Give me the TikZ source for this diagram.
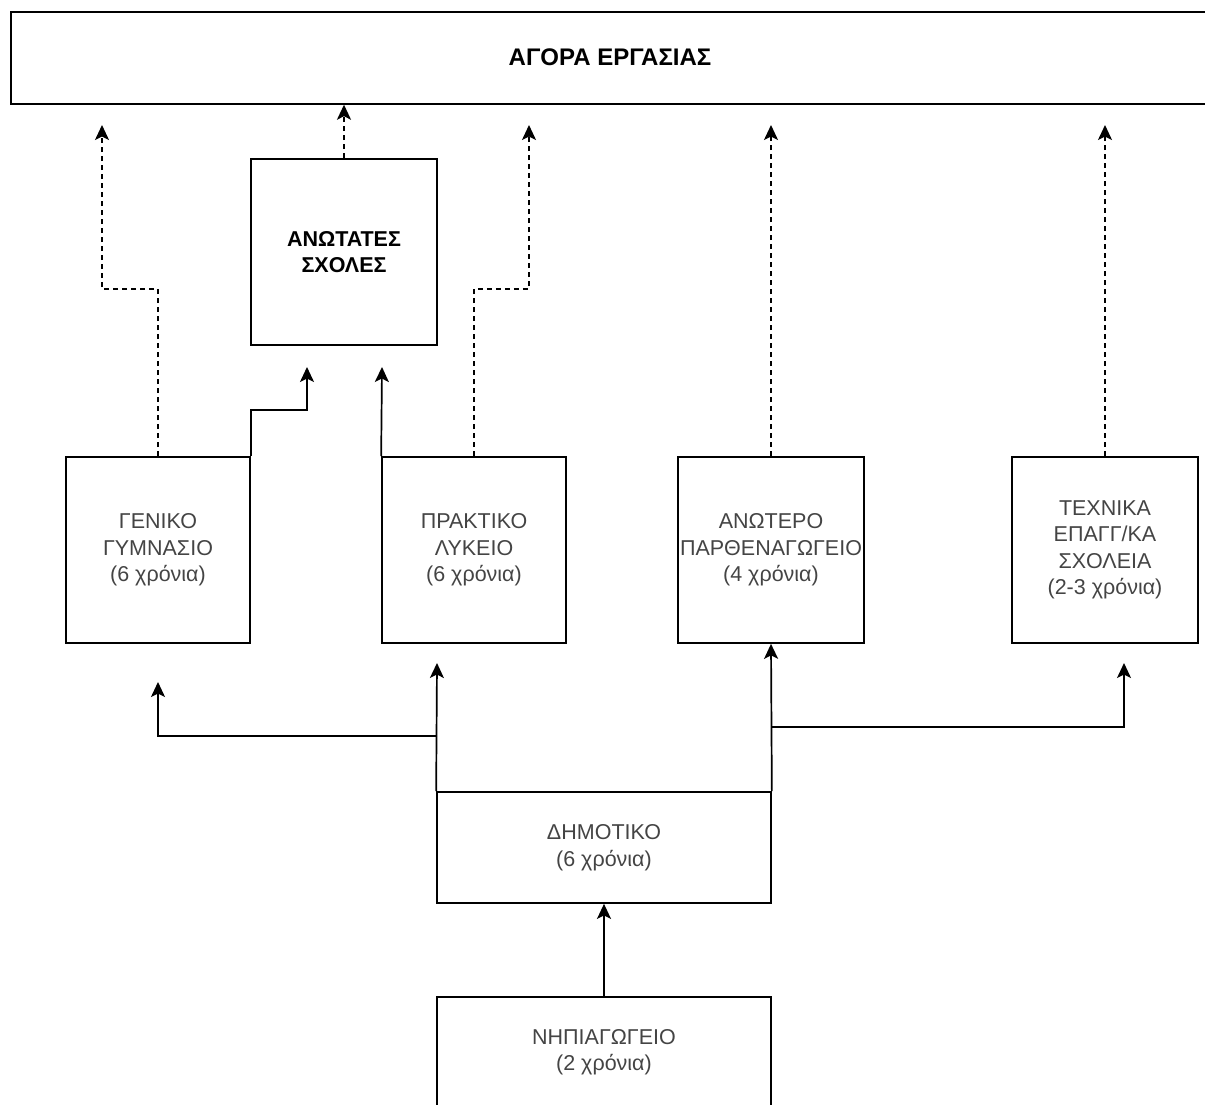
\documentclass[tikz,border=0pt]{standalone}
\usepackage{fontspec}
\setmainfont{Liberation Sans}
\usetikzlibrary{arrows.meta}
\definecolor{txt}{HTML}{444444}
\begin{document}
\begin{tikzpicture}[x=1pt,y=-1pt,
  box/.style={draw=black, line width=1.7pt, inner sep=0pt, align=center, text=txt,
    font=\fontsize{21.5}{26.5}\selectfont},
  boldbox/.style={box, text=black, font=\fontsize{21.5}{25.5}\selectfont\bfseries},
  arr/.style={draw=black, line width=1.7pt, -{Stealth[length=15pt,width=14pt,inset=3.5pt]}},
  darr/.style={arr, dash pattern=on 5pt off 4pt},
]
\useasboundingbox (0,0) rectangle (1205,1104);

% boxes
\node[box, minimum width=1200pt, minimum height=92pt, anchor=north west] (market) at (10,11) {};
\node[text=black, font=\fontsize{24}{28}\selectfont\bfseries] (marketlabel) at (610,57) {ΑΓΟΡΑ ΕΡΓΑΣΙΑΣ};

\node[boldbox, minimum width=186pt, minimum height=186pt] (anot) at (344,252) {ΑΝΩΤΑΤΕΣ\\ΣΧΟΛΕΣ};

\node[box, minimum width=184pt, minimum height=186pt] (gen) at (158,550) {ΓΕΝΙΚΟ\\ΓΥΜΝΑΣΙΟ\\(6 χρόνια)};
\node[box, minimum width=184pt, minimum height=186pt] (prak) at (474,550) {ΠΡΑΚΤΙΚΟ\\ΛΥΚΕΙΟ\\(6 χρόνια)};
\node[box, minimum width=186pt, minimum height=186pt] (anoter) at (771,550) {ΑΝΩΤΕΡΟ\\ΠΑΡΘΕΝΑΓΩΓΕΙΟ\\(4 χρόνια)};
\node[box, minimum width=186pt, minimum height=186pt] (tech) at (1105,550) {ΤΕΧΝΙΚΑ\\ΕΠΑΓΓ/ΚΑ\\ΣΧΟΛΕΙΑ\\(2-3 χρόνια)};

\node[box, minimum width=334pt, minimum height=111pt] (dim) at (604,847.5) {ΔΗΜΟΤΙΚΟ\\(6 χρόνια)};
\node[box, minimum width=334pt, minimum height=110pt] (nip) at (604,1052) {ΝΗΠΙΑΓΩΓΕΙΟ\\(2 χρόνια)};

% helper coordinates
\coordinate (c1) at (437,736);
\coordinate (genin) at (158,682);
\coordinate (prakin) at (437,663);
\coordinate (c2) at (771,727);
\coordinate (techin) at (1124,663);
\coordinate (g1) at (307,410);
\coordinate (anotinL) at (307,367);
\coordinate (anotinR) at (382,367);
\coordinate (gd) at (102,289);
\coordinate (genout) at (102,125);
\coordinate (pd) at (529,289);
\coordinate (prakout) at (529,125);
\coordinate (anoterout) at (771,125);
\coordinate (techout) at (1105,125);

% solid connectors
\draw[arr] (nip.north) -- (dim.south);
\draw[arr] (dim.north west) -- (prakin);
\draw[arr] (c1) -| (genin);
\draw[arr] (dim.north east) -- (anoter.south);
\draw[arr] (c2) -| (techin);
\draw[arr] (gen.north east) |- (g1) -- (anotinL);
\draw[arr] (prak.north west) -- (anotinR);

% dashed connectors
\draw[darr] (gen.north) |- (gd) -- (genout);
\draw[darr] (prak.north) |- (pd) -- (prakout);
\draw[darr] (anoter.north) -- (anoterout);
\draw[darr] (tech.north) -- (techout);
\draw[darr] (anot.north) -- (anot.north |- market.south);
\end{tikzpicture}
\end{document}
